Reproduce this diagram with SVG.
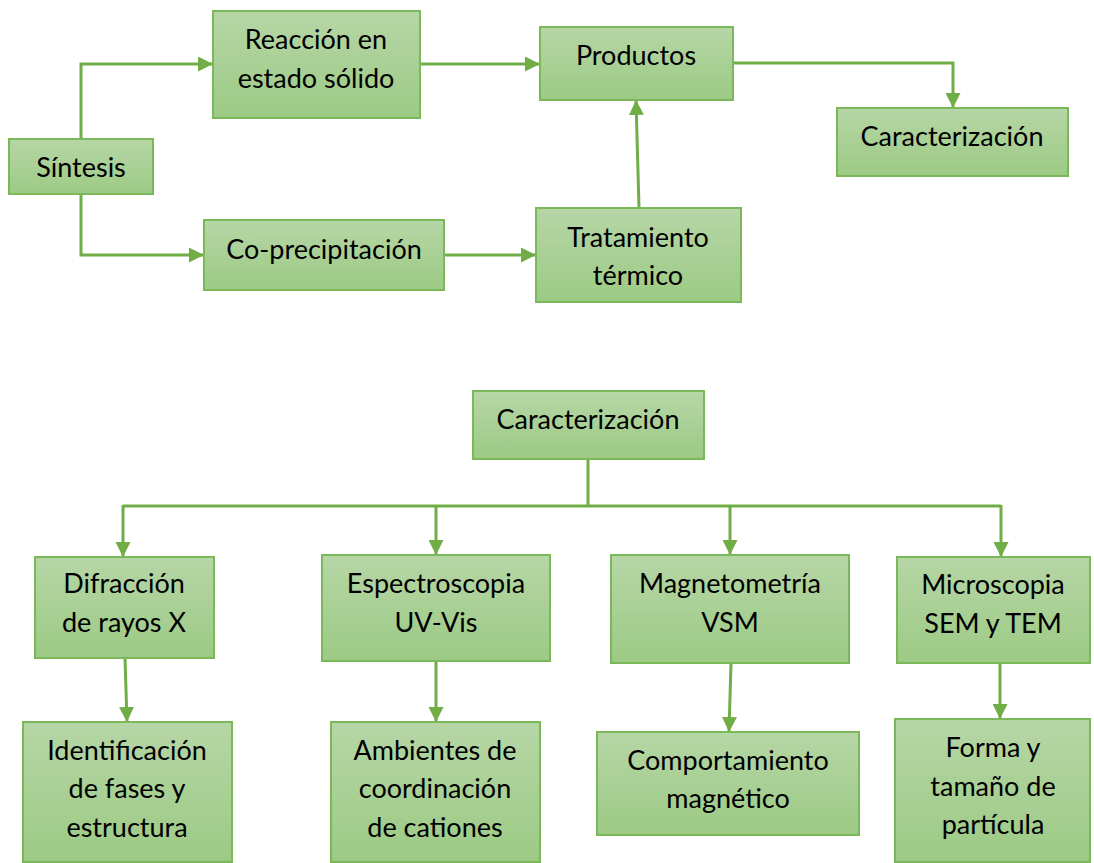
<svg xmlns="http://www.w3.org/2000/svg" width="1094" height="863" viewBox="0 0 1094 863">
<style>
.box{fill:url(#g);stroke:#7ab85a;stroke-width:2}
.t{font-family:Lato,"Liberation Sans",sans-serif;font-size:27px;fill:#000;text-anchor:middle}
.c{fill:none;stroke:#70ad47;stroke-width:3}
.a{marker-end:url(#ah)}
</style>
<defs>
<linearGradient id="g" x1="0" y1="0" x2="0" y2="1">
<stop offset="0" stop-color="#b6d6a6"/>
<stop offset="1" stop-color="#9cca84"/>
</linearGradient>
<marker id="ah" markerUnits="userSpaceOnUse" markerWidth="15" markerHeight="15" refX="15" refY="7.5" orient="auto">
<path d="M0,0 L15,7.5 L0,15 z" fill="#70ad47"/>
</marker>
</defs>
<rect width="1094" height="863" fill="#fff"/>
<g id="connectors">
<path class="c a" d="M81,139 V64 H213"/>
<path class="c a" d="M81,194 V255 H204"/>
<path class="c a" d="M420,64 H540"/>
<path class="c a" d="M444,255 H536"/>
<path class="c a" d="M639,208 L636,100"/>
<path class="c a" d="M733,63 H953 V108"/>
<path class="c" d="M588,459 V506"/>
<path class="c" d="M123,506 H1001"/>
<path class="c a" d="M123,505 V557"/>
<path class="c a" d="M436,505 V555"/>
<path class="c a" d="M730,505 V555"/>
<path class="c a" d="M1001,505 V557"/>
<path class="c a" d="M125,658 L127,722"/>
<path class="c a" d="M436,661 V722"/>
<path class="c a" d="M731,663 L729,732"/>
<path class="c a" d="M1000,663 V719"/>
</g>
<g id="sintesis"><rect class="box" x="9" y="139" width="144" height="55"/><text class="t" x="81" y="177">Síntesis</text></g>
<g id="reaccion"><rect class="box" x="213" y="11" width="207" height="107"/><text class="t" x="316" y="49">Reacción en</text><text class="t" x="316" y="88">estado sólido</text></g>
<g id="coprecipitacion"><rect class="box" x="204" y="220" width="240" height="70"/><text class="t" x="324" y="259">Co-precipitación</text></g>
<g id="productos"><rect class="box" x="540" y="27" width="193" height="73"/><text class="t" x="636" y="65">Productos</text></g>
<g id="tratamiento"><rect class="box" x="536" y="208" width="205" height="94"/><text class="t" x="638" y="247">Tratamiento</text><text class="t" x="638" y="285">térmico</text></g>
<g id="caracterizacion1"><rect class="box" x="837" y="108" width="231" height="68"/><text class="t" x="952" y="146">Caracterización</text></g>
<g id="caracterizacion2"><rect class="box" x="473" y="391" width="231" height="68"/><text class="t" x="588" y="429">Caracterización</text></g>
<g id="difraccion"><rect class="box" x="35" y="557" width="179" height="101"/><text class="t" x="124" y="593">Difracción</text><text class="t" x="124" y="632">de rayos X</text></g>
<g id="espectroscopia"><rect class="box" x="322" y="555" width="228" height="106"/><text class="t" x="436" y="593">Espectroscopia</text><text class="t" x="436" y="632">UV-Vis</text></g>
<g id="magnetometria"><rect class="box" x="611" y="555" width="238" height="108"/><text class="t" x="730" y="593">Magnetometría</text><text class="t" x="730" y="632">VSM</text></g>
<g id="microscopia"><rect class="box" x="897" y="557" width="193" height="106"/><text class="t" x="993" y="594">Microscopia</text><text class="t" x="993" y="633">SEM y TEM</text></g>
<g id="identificacion"><rect class="box" x="23" y="722" width="209" height="140"/><text class="t" x="127" y="760">Identificación</text><text class="t" x="127" y="798">de fases y</text><text class="t" x="127" y="837">estructura</text></g>
<g id="ambientes"><rect class="box" x="331" y="722" width="209" height="140"/><text class="t" x="435" y="760">Ambientes de</text><text class="t" x="435" y="798">coordinación</text><text class="t" x="435" y="837">de cationes</text></g>
<g id="comportamiento"><rect class="box" x="597" y="732" width="262" height="103"/><text class="t" x="728" y="770">Comportamiento</text><text class="t" x="728" y="808">magnético</text></g>
<g id="forma"><rect class="box" x="895" y="719" width="195" height="143"/><text class="t" x="993" y="757">Forma y</text><text class="t" x="993" y="796">tamaño de</text><text class="t" x="993" y="834">partícula</text></g>
</svg>
